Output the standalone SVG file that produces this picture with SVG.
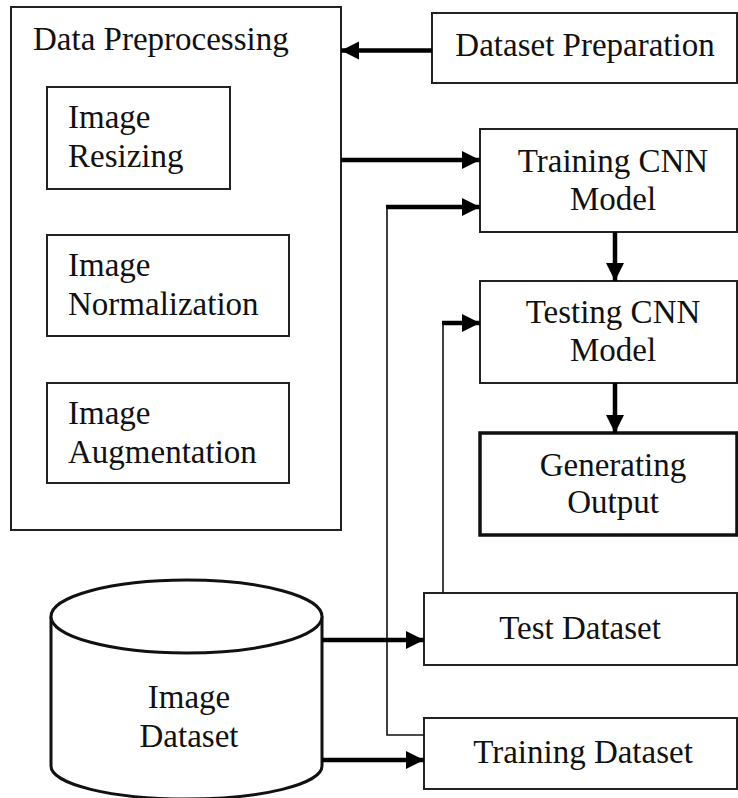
<svg xmlns="http://www.w3.org/2000/svg" width="738" height="798" viewBox="0 0 738 798">
<defs>
<style>
.box{fill:#fff;stroke:#222;stroke-width:2}
.thick{fill:#fff;stroke:#111;stroke-width:3.5}
.t{font-size:33px;fill:#111}
.m{text-anchor:middle}
.a{stroke:#000;stroke-width:4.5;fill:none}
.w{stroke:#111;stroke-width:1.6;fill:none}
</style>
<marker id="ah" markerUnits="userSpaceOnUse" markerWidth="20" markerHeight="20" refX="18" refY="9" orient="auto">
<path d="M0,0 L18,9 L0,18 z" fill="#000"/>
</marker>
</defs>
<rect width="738" height="798" fill="#fff"/>
<g font-family="'Liberation Serif', 'Times New Roman', 'DejaVu Serif', serif">
<g id="data-preprocessing">
<rect class="box" x="11" y="7" width="330" height="523"/>
<text class="t" x="33" y="50">Data Preprocessing</text>
</g>
<g id="image-resizing">
<rect class="box" x="47" y="87" width="183" height="102"/>
<text class="t" x="68" y="128">Image</text>
<text class="t" x="68" y="167">Resizing</text>
</g>
<g id="image-normalization">
<rect class="box" x="47" y="235" width="242" height="101"/>
<text class="t" x="68" y="276">Image</text>
<text class="t" x="68" y="315">Normalization</text>
</g>
<g id="image-augmentation">
<rect class="box" x="47" y="383" width="242" height="100"/>
<text class="t" x="68" y="424">Image</text>
<text class="t" x="68" y="463">Augmentation</text>
</g>
<g id="dataset-preparation">
<rect class="box" x="432" y="13" width="305" height="70"/>
<text class="t m" x="585" y="56">Dataset Preparation</text>
</g>
<g id="training-cnn">
<rect class="box" x="480" y="129" width="257" height="103"/>
<text class="t m" x="613" y="172">Training CNN</text>
<text class="t m" x="613" y="210">Model</text>
</g>
<g id="testing-cnn">
<rect class="box" x="480" y="281" width="257" height="102"/>
<text class="t m" x="613" y="323">Testing CNN</text>
<text class="t m" x="613" y="361">Model</text>
</g>
<g id="generating-output">
<rect class="thick" x="480" y="433" width="257" height="102"/>
<text class="t m" x="613" y="476">Generating</text>
<text class="t m" x="613" y="513">Output</text>
</g>
<g id="test-dataset">
<rect class="box" x="424" y="593" width="313" height="72"/>
<text class="t m" x="580" y="639">Test Dataset</text>
</g>
<g id="training-dataset">
<rect class="box" x="424" y="718" width="313" height="71"/>
<text class="t m" x="583" y="763">Training Dataset</text>
</g>
<g id="image-dataset">
<path d="M51,616.5 L51,766 A135.5,33 0 0 0 322,766 L322,616.5" fill="#fff" stroke="#111" stroke-width="3"/>
<ellipse cx="186.5" cy="616.5" rx="135.5" ry="36.5" fill="#fff" stroke="#111" stroke-width="3"/>
<text class="t m" x="189" y="708">Image</text>
<text class="t m" x="189" y="747">Dataset</text>
</g>
</g>
<g id="connectors">
<line class="a" x1="432" y1="50.5" x2="341" y2="50.5" marker-end="url(#ah)"/>
<line class="a" x1="341" y1="160" x2="480" y2="160" marker-end="url(#ah)"/>
<line class="a" x1="386" y1="207" x2="480" y2="207" marker-end="url(#ah)"/>
<polyline class="w" points="387,207 387,735 424,735"/>
<line class="a" x1="442" y1="323" x2="480" y2="323" marker-end="url(#ah)"/>
<line class="w" x1="443" y1="323" x2="443" y2="593"/>
<line class="a" x1="615" y1="232" x2="615" y2="281" marker-end="url(#ah)"/>
<line class="a" x1="615" y1="383" x2="615" y2="433" marker-end="url(#ah)"/>
<line class="a" x1="322" y1="640" x2="424" y2="640" marker-end="url(#ah)"/>
<line class="a" x1="322" y1="760" x2="424" y2="760" marker-end="url(#ah)"/>
</g>
</svg>
